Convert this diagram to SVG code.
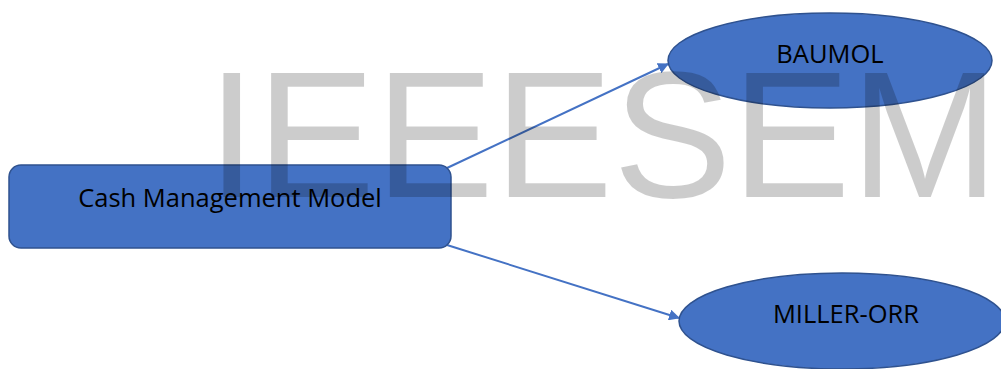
<svg xmlns="http://www.w3.org/2000/svg" width="1001" height="369" viewBox="0 0 1001 369">
  <style>
    .shape { fill: #4472c4; stroke: #2f528f; stroke-width: 1.5; }
    .label { font-family: "Open Sans", "Liberation Sans", sans-serif; font-size: 25.5px; fill: #000; text-anchor: middle; }
    .link { stroke: #4472c4; stroke-width: 2; fill: none; marker-end: url(#head); }
    .mark { font-family: "Liberation Sans", Arial, sans-serif; font-size: 180px; fill: #000; fill-opacity: 0.2; }
  </style>
  <defs>
    <marker id="head" viewBox="0 0 10 10" refX="9" refY="5" markerWidth="5.5" markerHeight="5.5" orient="auto" markerUnits="strokeWidth">
      <path d="M0,0 L10,5 L0,10 z" fill="#4472c4"/>
    </marker>
  </defs>
  <rect width="1001" height="369" fill="#fff"/>

  <g id="connectors">
    <line class="link" x1="447" y1="168" x2="668" y2="64"/>
    <line class="link" x1="447" y1="245" x2="679" y2="318"/>
  </g>

  <g id="node-cash">
    <rect class="shape" x="9" y="165" width="442" height="83" rx="12" ry="12"/>
    <text class="label" x="230" y="207">Cash Management Model</text>
  </g>

  <g id="node-baumol">
    <ellipse class="shape" cx="830" cy="60.5" rx="162" ry="47.5"/>
    <text class="label" x="830" y="63">BAUMOL</text>
  </g>

  <g id="node-miller-orr">
    <ellipse class="shape" cx="842" cy="321" rx="163" ry="48"/>
    <text class="label" x="846" y="323">MILLER-ORR</text>
  </g>

  <!-- faint lettering laid over everything -->
  <text class="mark" x="207" y="197" textLength="792" lengthAdjust="spacingAndGlyphs">IEEESEM</text>
</svg>
